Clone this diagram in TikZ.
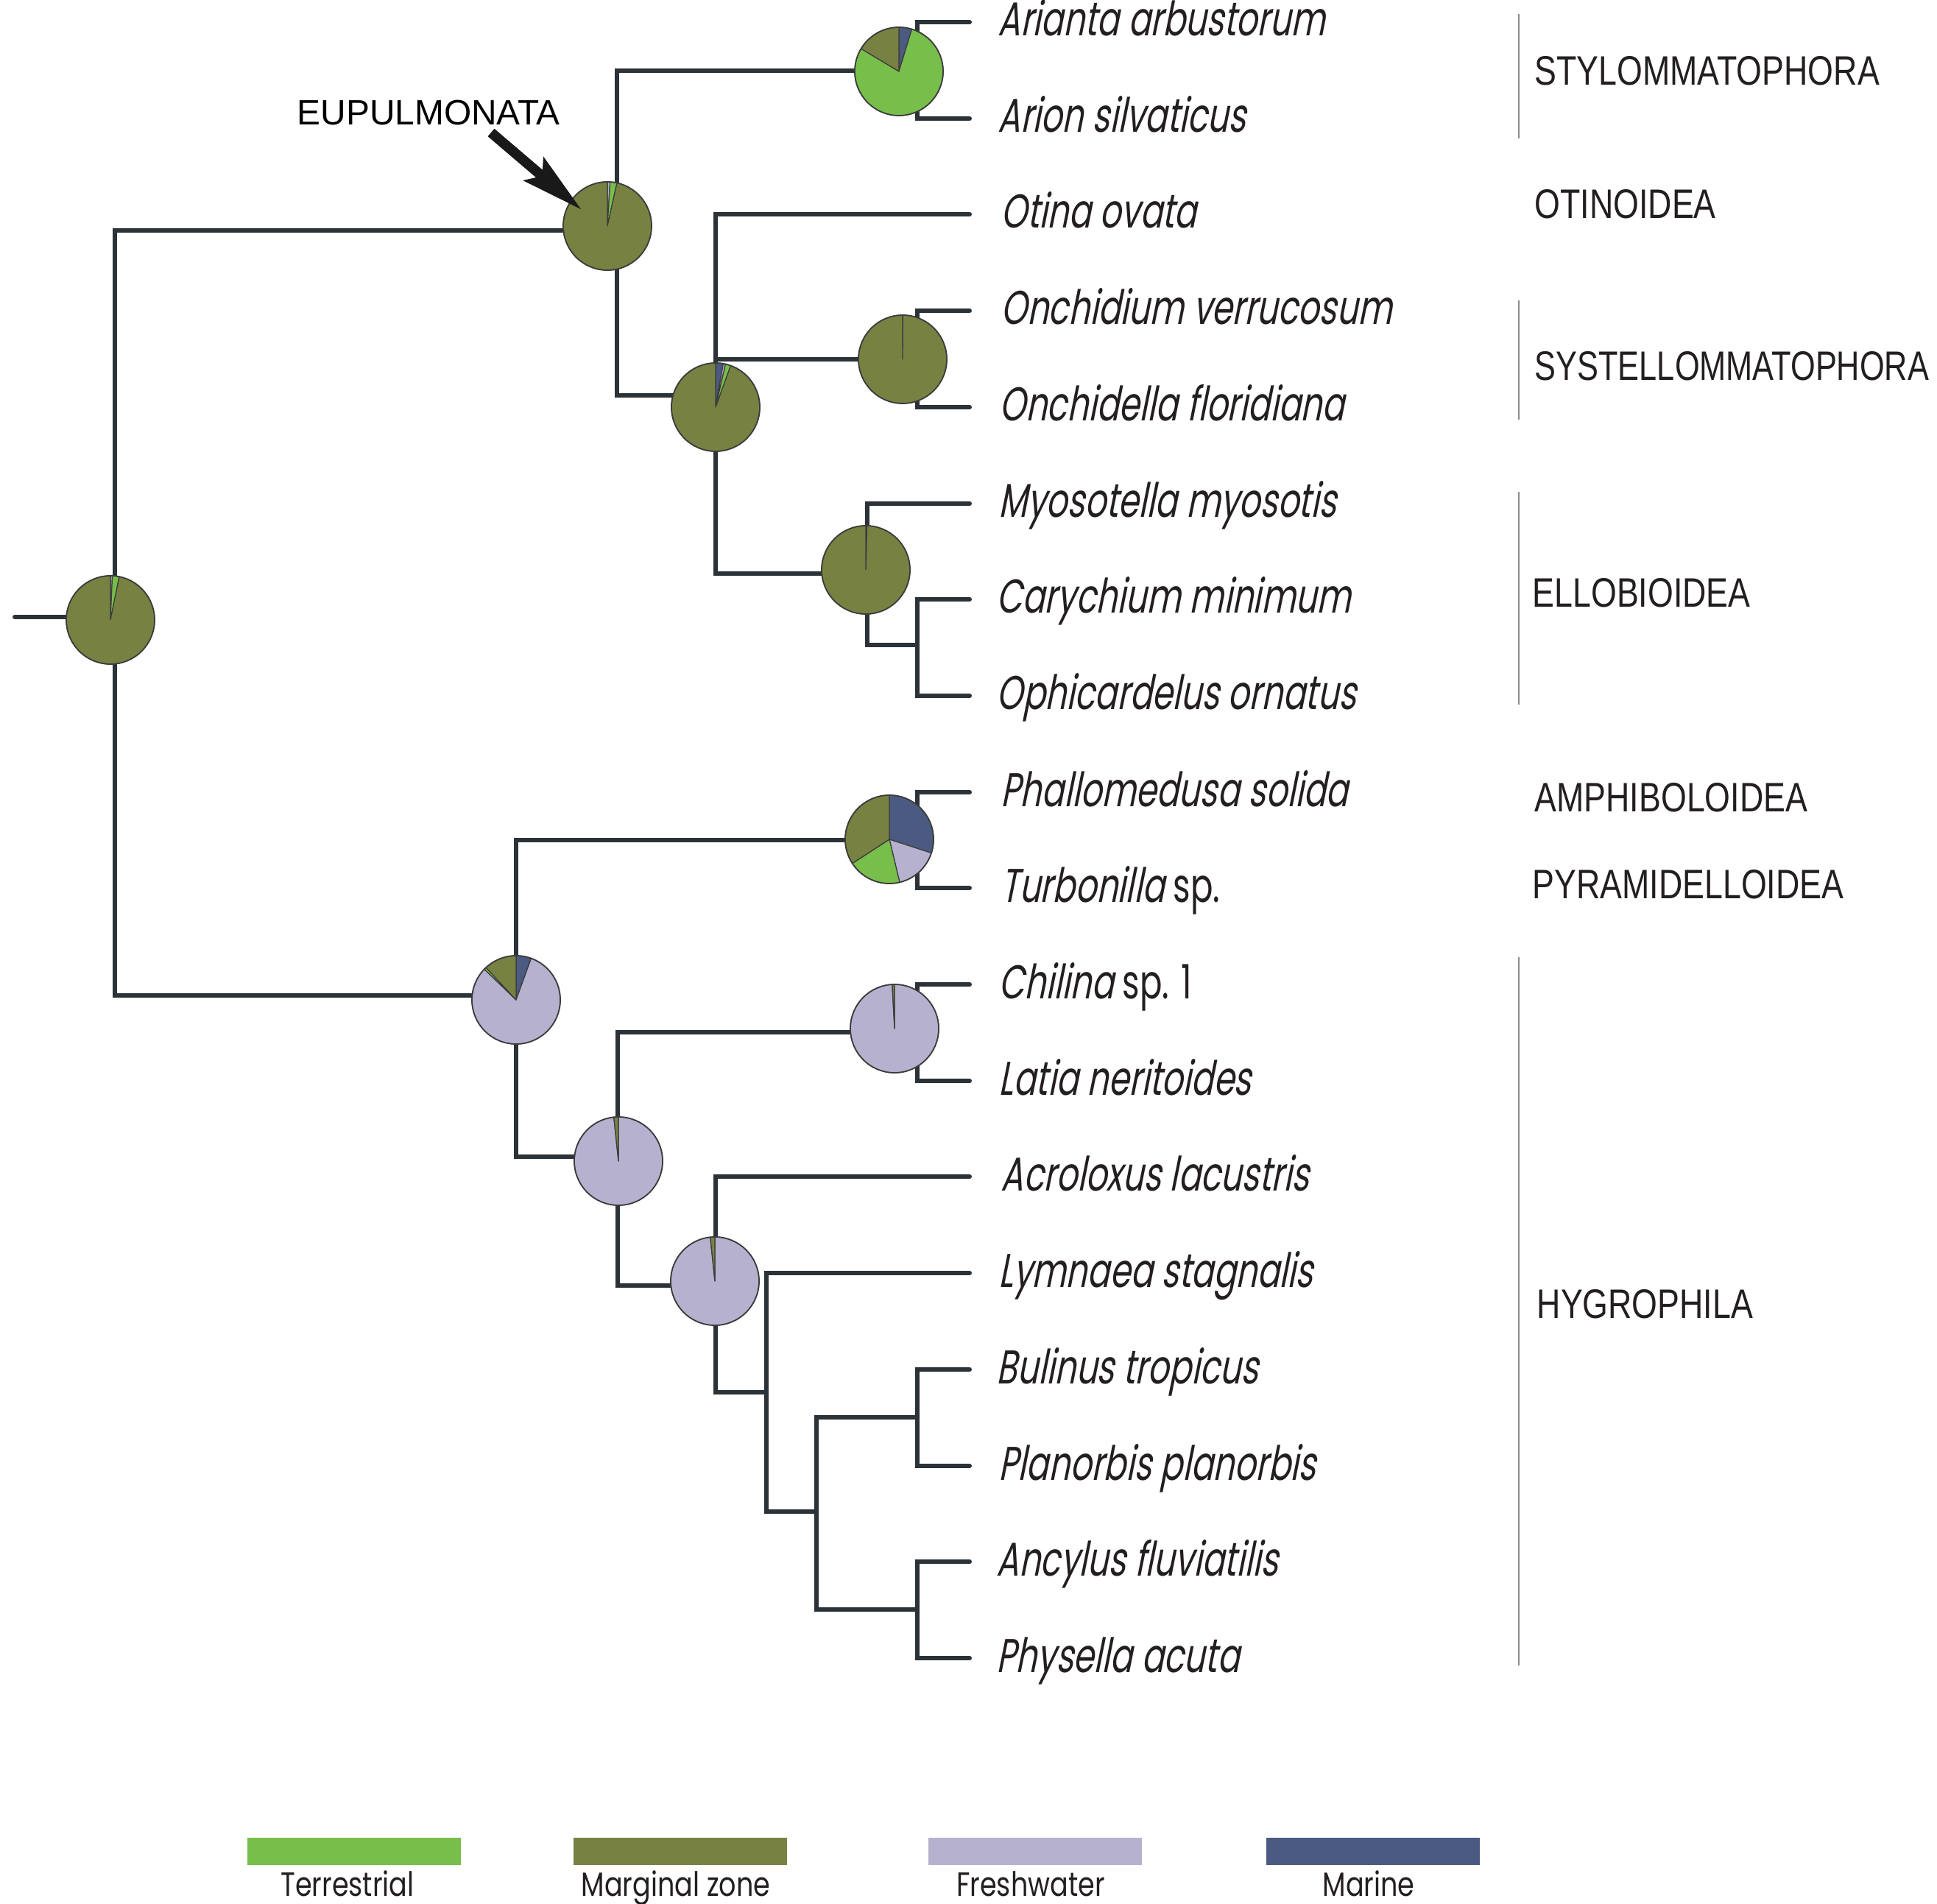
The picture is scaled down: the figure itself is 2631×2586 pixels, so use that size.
\documentclass[tikz,border=0pt]{standalone}
\usepackage{fontspec}
\usetikzlibrary{arrows.meta}
\newfontfamily\tipfont[FakeStretch=0.70,FakeSlant=0.2]{Poppins}
\newfontfamily\tipup[FakeStretch=0.70]{Poppins}
\newfontfamily\legfont[FakeStretch=0.80]{Poppins}
\newfontfamily\cladefont[FakeStretch=0.8]{Liberation Sans}
\newfontfamily\cladefontn[FakeStretch=0.775]{Liberation Sans}
\newfontfamily\eupfont{Liberation Sans}
\definecolor{terr}{RGB}{120,190,75}
\definecolor{marg}{RGB}{119,129,66}
\definecolor{fresh}{RGB}{181,177,207}
\definecolor{marine}{RGB}{75,90,128}
\definecolor{branchcol}{RGB}{43,50,56}
\definecolor{pieline}{RGB}{60,60,60}
\definecolor{txt}{RGB}{35,31,32}
\definecolor{barcol}{RGB}{140,140,140}
\tikzset{
  branch/.style={draw=branchcol, line width=1.7pt, line cap=round, line join=miter},
  tiplabel/.style={anchor=base west, inner sep=0pt, text=txt, font=\tipfont\fontsize{18.3}{22}\selectfont},
  cladelabel/.style={anchor=base west, inner sep=0pt, text=txt, font=\cladefont\fontsize{15.9}{19}\selectfont},
  leglabel/.style={anchor=base, inner sep=0pt, text=txt, font=\legfont\fontsize{13}{16}\selectfont},
  legbox/.style={inner sep=0pt, minimum width=2.9cm, minimum height=0.37cm},
  pienode/.style={circle, inner sep=0pt, minimum size=1.2cm},
  cladebar/.style={draw=barcol, line width=0.6pt},
  euparrow/.style={draw=black!90, line width=3.9pt, -{Stealth[length=24pt, width=11.5pt, inset=4pt]}},
}
\newcommand\pslice[4]{%
  \fill[#4, draw=pieline, line width=0.35pt, line join=round] (#1.center) -- ++(#2:60) arc[start angle=#2, end angle=#3, radius=60] -- cycle;}
% #1 name, #2 position, #3 marine, #4 freshwater, #5 terrestrial, #6 marginal (degrees, clockwise from 12 o'clock)
\newcommand\pchart[6]{%
  \node[pienode] (#1) at (#2) {};
  \pgfmathsetmacro\aA{-90}%
  \pgfmathsetmacro\aB{\aA+#3}%
  \pgfmathsetmacro\aC{\aB+#4}%
  \pgfmathsetmacro\aD{\aC+#5}%
  \pgfmathsetmacro\aE{\aD+#6}%
  \ifdim #3pt>0pt \pslice{#1}{\aA}{\aB}{marine}\fi
  \ifdim #4pt>0pt \pslice{#1}{\aB}{\aC}{fresh}\fi
  \ifdim #5pt>0pt \pslice{#1}{\aC}{\aD}{terr}\fi
  \ifdim #6pt>0pt \pslice{#1}{\aD}{\aE}{marg}\fi
  \draw[pieline, line width=0.5pt] (#1.center) circle[radius=60];
}
\begin{document}
\begin{tikzpicture}[x=0.01cm, y=-0.01cm]
\useasboundingbox[fill=white] (0,0) rectangle (2631,2586);

% internal nodes
\coordinate (stub) at (20,838);
\coordinate (root) at (156,838);
\coordinate (neup) at (838,313);
\coordinate (nstyl) at (1246,96);
\coordinate (nb) at (972,537);
\coordinate (nsys) at (1246,488);
\coordinate (nell) at (1178,779);
\coordinate (nell2) at (1246,876);
\coordinate (nlow) at (701,1352);
\coordinate (namph) at (1246,1141);
\coordinate (nhyg) at (839,1571);
\coordinate (nchil) at (1246,1402);
\coordinate (nh2) at (972,1746);
\coordinate (nh3) at (1041,1891);
\coordinate (nh4) at (1109,2053);
\coordinate (nbul) at (1246,1925);
\coordinate (nanc) at (1246,2186);

% tips
\foreach \i/\yy in {0/30,1/161,2/291,3/422,4/553,5/684,6/814,7/945,8/1076,9/1206,10/1337,11/1468,12/1598,13/1729,14/1860,15/1991,16/2121,17/2252}
  \coordinate (t\i) at (1317,\yy);

% branches
\draw[branch] (stub) -- (root);
\draw[branch] (root) |- (neup);
\draw[branch] (root) |- (nlow);
\draw[branch] (neup) |- (nstyl);
\draw[branch] (neup) |- (nb);
\draw[branch] (nstyl) |- (t0);
\draw[branch] (nstyl) |- (t1);
\draw[branch] (nb) |- (t2);
\draw[branch] (nb) |- (nsys);
\draw[branch] (nb) |- (nell);
\draw[branch] (nsys) |- (t3);
\draw[branch] (nsys) |- (t4);
\draw[branch] (nell) |- (t5);
\draw[branch] (nell) |- (nell2);
\draw[branch] (nell2) |- (t6);
\draw[branch] (nell2) |- (t7);
\draw[branch] (nlow) |- (namph);
\draw[branch] (nlow) |- (nhyg);
\draw[branch] (namph) |- (t8);
\draw[branch] (namph) |- (t9);
\draw[branch] (nhyg) |- (nchil);
\draw[branch] (nhyg) |- (nh2);
\draw[branch] (nchil) |- (t10);
\draw[branch] (nchil) |- (t11);
\draw[branch] (nh2) |- (t12);
\draw[branch] (nh2) |- (nh3);
\draw[branch] (nh3) |- (t13);
\draw[branch] (nh3) |- (nh4);
\draw[branch] (nh4) |- (nbul);
\draw[branch] (nh4) |- (nanc);
\draw[branch] (nbul) |- (t14);
\draw[branch] (nbul) |- (t15);
\draw[branch] (nanc) |- (t16);
\draw[branch] (nanc) |- (t17);

% pies
\pchart{proot}{150,842}{0}{2.5}{9}{348.5}
\pchart{peup}{825,307}{0}{3.5}{9}{347.5}
\pchart{pstyl}{1221,97}{17}{0}{284}{59}
\pchart{pb}{972,553}{10}{3}{7}{340}
\pchart{psys}{1226,488}{0}{0.4}{0}{359.6}
\pchart{pell}{1176,774}{0}{1.5}{0}{358.5}
\pchart{plow}{701,1358}{20}{294}{3}{43}
\pchart{pamph}{1208,1140}{108}{58.5}{70.5}{123}
\pchart{phyg}{840,1577}{0}{354}{0}{6}
\pchart{pchil}{1215,1397}{0}{357}{0}{3}
\pchart{ph2}{971,1740}{0}{354}{0}{6}

% tip labels
\node[tiplabel] (l0) at (1355,49) {Arianta arbustorum};
\node[tiplabel] (l1) at (1355,180) {Arion silvaticus};
\node[tiplabel] (l2) at (1359,310) {Otina ovata};
\node[tiplabel] (l3) at (1359,441) {Onchidium verrucosum};
\node[tiplabel] (l4) at (1357,572) {Onchidella floridiana};
\node[tiplabel] (l5) at (1356,703) {Myosotella myosotis};
\node[tiplabel] (l6) at (1353,833) {Carychium minimum};
\node[tiplabel] (l7) at (1353,964) {Ophicardelus ornatus};
\node[tiplabel] (l8) at (1359,1095) {Phallomedusa solida};
\node[tiplabel] (l9) at (1359,1225) {Turbonilla {\tipup sp.}};
\node[tiplabel] (l10) at (1356,1356) {Chilina {\tipup sp. 1}};
\node[tiplabel] (l11) at (1356,1487) {Latia neritoides};
\node[tiplabel] (l12) at (1359,1617) {Acroloxus lacustris};
\node[tiplabel] (l13) at (1356,1748) {Lymnaea stagnalis};
\node[tiplabel] (l14) at (1353,1879) {Bulinus tropicus};
\node[tiplabel] (l15) at (1356,2010) {Planorbis planorbis};
\node[tiplabel] (l16) at (1353,2140) {Ancylus fluviatilis};
\node[tiplabel] (l17) at (1353,2271) {Physella acuta};

% clade bars
\coordinate (b1a) at (2063,19);   \coordinate (b1b) at (2063,188);
\coordinate (b2a) at (2063,408);  \coordinate (b2b) at (2063,570);
\coordinate (b3a) at (2063,668);  \coordinate (b3b) at (2063,957);
\coordinate (b4a) at (2063,1300); \coordinate (b4b) at (2063,2262);
\draw[cladebar] (b1a) -- (b1b);
\draw[cladebar] (b2a) -- (b2b);
\draw[cladebar] (b3a) -- (b3b);
\draw[cladebar] (b4a) -- (b4b);

% clade labels
\node[cladelabel] (c1) at (2084,116) {STYLOMMATOPHORA};
\node[cladelabel] (c2) at (2084,297) {OTINOIDEA};
\node[cladelabel, font=\cladefontn\fontsize{15.9}{19}\selectfont] (c3) at (2084,517) {SYSTELLOMMATOPHORA};
\node[cladelabel] (c4) at (2081,825) {ELLOBIOIDEA};
\node[cladelabel] (c5) at (2084,1102) {AMPHIBOLOIDEA};
\node[cladelabel] (c6) at (2081,1220) {PYRAMIDELLOIDEA};
\node[cladelabel] (c7) at (2087,1790) {HYGROPHILA};

% Eupulmonata
\node[anchor=base west, inner sep=0pt, text=black, font=\eupfont\fontsize{13.6}{16}\selectfont] (eup) at (403,170) {EUPULMONATA};
\coordinate (arrS) at (667,180);
\coordinate (arrE) at (790,285);
\draw[euparrow] (arrS) -- (arrE);

% legend
\node[legbox, fill=terr] (k1) at (481,2514) {};
\node[legbox, fill=marg] (k2) at (924,2514) {};
\node[legbox, fill=fresh] (k3) at (1406,2514) {};
\node[legbox, fill=marine] (k4) at (1865,2514) {};
\node[leglabel] (k1t) at (472,2575) {Terrestrial};
\node[leglabel] (k2t) at (918,2575) {Marginal zone};
\node[leglabel] (k3t) at (1400,2575) {Freshwater};
\node[leglabel] (k4t) at (1859,2575) {Marine};
\end{tikzpicture}
\end{document}
